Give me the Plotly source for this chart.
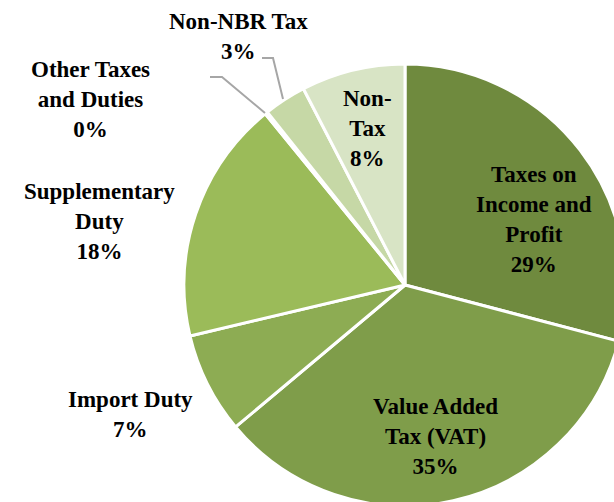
import plotly.graph_objects as go

# ---- data ----
categories = ["Taxes on Income and Profit", "Value Added Tax (VAT)", "Import Duty",
              "Supplementary Duty", "Other Taxes and Duties", "Non-NBR Tax", "Non-Tax"]
display_names = ["Taxes on<br>Income and<br>Profit", "Value Added<br>Tax (VAT)", "Import Duty",
                 "Supplementary<br>Duty", "Other Taxes<br>and Duties", "Non-NBR Tax", "Non-<br>Tax"]
shares = [29.1, 34.8, 7.4, 17.8, 0.2, 3.1, 7.6]
colors = ["#6F8A3E", "#7F9D4A", "#8DAC53", "#9BBB59", "#B4CC83", "#C6D8A6", "#D8E4C5"]

W, H = 640, 520
total = sum(shares)
pcts = [round(v / total * 100) for v in shares]

def px(x):
    return x / W

def py(y):
    return 1 - y / H

fig = go.Figure(go.Pie(
    labels=categories, values=shares, sort=False, direction="clockwise", rotation=0,
    marker=dict(colors=colors, line=dict(color="white", width=3)),
    textinfo="none", hoverinfo="label+percent", showlegend=False,
    domain=dict(x=[px(184), px(626)], y=[py(506), py(64)]),
))

# label anchor positions (pixel centres of each text block)
label_pos = [(534, 219), (435, 436), (130, 414), (99, 221), (90, 100), (238, 37), (367, 128)]
font = dict(family="Liberation Serif", size=23, color="black")
for name, p, (x, y) in zip(display_names, pcts, label_pos):
    fig.add_annotation(x=px(x), y=py(y), xref="paper", yref="paper",
                       text=f"<b>{name}<br>{p}%</b>", showarrow=False,
                       font=font, align="center", xanchor="center", yanchor="middle")

# leader lines
leaders = [[(262, 58), (273, 58), (283, 99)], [(210, 77), (222, 77), (265, 113)]]
for pts in leaders:
    path = "M " + " L ".join(f"{px(a)} {py(b)}" for a, b in pts)
    fig.add_shape(type="path", path=path, xref="paper", yref="paper",
                  line=dict(color="#A6A6A6", width=2))

fig.update_layout(width=W, height=H, margin=dict(l=0, r=0, t=0, b=0),
                  paper_bgcolor="white", plot_bgcolor="white")

fig.write_html("out.html", config={"displayModeBar": False}, post_script=(
    "document.body.style.margin='0';document.body.style.overflow='hidden';"
    "document.documentElement.style.overflow='hidden';"))
